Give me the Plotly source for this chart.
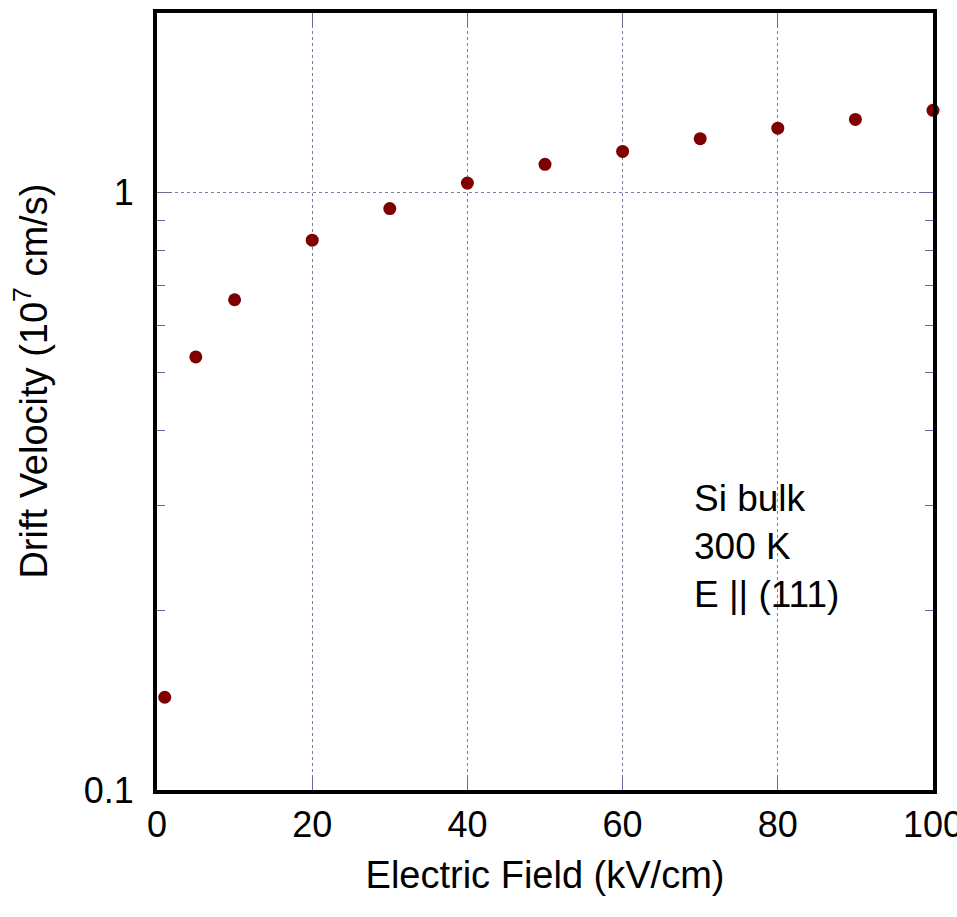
import plotly.graph_objects as go

# Data
field_kv_cm = [1, 5, 10, 20, 30, 40, 50, 60, 70, 80, 90, 100]
drift_velocity = [0.143, 0.531, 0.662, 0.833, 0.941, 1.038, 1.116, 1.173, 1.232, 1.283, 1.327, 1.374]

x_tickvals = [0, 20, 40, 60, 80, 100]
y_tickvals = [0.1, 1]
y_ticktext = ["0.1", "1"]
y_minor_tickvals = [0.2, 0.3, 0.4, 0.5, 0.6, 0.7, 0.8, 0.9]

annotation_lines = ["Si bulk", "300 K", "E || (111)"]

FONT = "Liberation Sans, Arial, sans-serif"
GRID = "#7a7aa8"
TICK = "#6b6b9b"

fig = go.Figure()
fig.add_trace(go.Scatter(
    x=field_kv_cm, y=drift_velocity, mode="markers",
    marker=dict(color="#7f0000", size=13, line=dict(width=0)),
    cliponaxis=False, showlegend=False,
))

fig.update_layout(
    width=957, height=917,
    margin=dict(l=157, r=24, t=13, b=127, autoexpand=False),
    paper_bgcolor="white", plot_bgcolor="white",
    font=dict(family=FONT, color="black"),
    xaxis=dict(
        range=[0, 100], tickmode="array", tickvals=x_tickvals,
        showgrid=True, gridcolor=GRID, griddash="dot", gridwidth=1,
        showline=True, linecolor="black", linewidth=4, mirror="allticks",
        ticks="inside", ticklen=14, tickcolor=TICK, tickwidth=1,
        tickfont=dict(size=36, family=FONT, color="black"),
        ticklabelstandoff=0, ticklabeloverflow="allow",
        automargin=False, zeroline=False,
        title=dict(text="Electric Field (kV/cm)", font=dict(size=38, family=FONT), standoff=18),
    ),
    yaxis=dict(
        type="log", range=[-1, 0.30103],
        tickmode="array", tickvals=y_tickvals, ticktext=y_ticktext,
        showgrid=True, gridcolor=GRID, griddash="dot", gridwidth=1,
        showline=True, linecolor="black", linewidth=4, mirror="allticks",
        ticks="inside", ticklen=14, tickcolor=TICK, tickwidth=1,
        tickfont=dict(size=36, family=FONT, color="black"),
        ticklabelstandoff=12, ticklabeloverflow="allow",
        minor=dict(tickmode="array", tickvals=y_minor_tickvals, ticks="inside",
                   ticklen=8, tickcolor=TICK, tickwidth=1, showgrid=False),
        automargin=False, zeroline=False,
    ),
    annotations=[
        dict(text="Drift Velocity (10<sup>7</sup> cm/s)", xref="paper", yref="paper",
             x=-0.162, y=0.526, xanchor="center", yanchor="middle", textangle=-90,
             showarrow=False, font=dict(size=38, family=FONT, color="black")),
        dict(text="<br>".join(annotation_lines), xref="paper", yref="paper",
             x=0.69, y=0.313, xanchor="left", yanchor="middle", align="left",
             showarrow=False, font=dict(size=37, family=FONT, color="black")),
    ],
)

fig.write_html("out.html")
